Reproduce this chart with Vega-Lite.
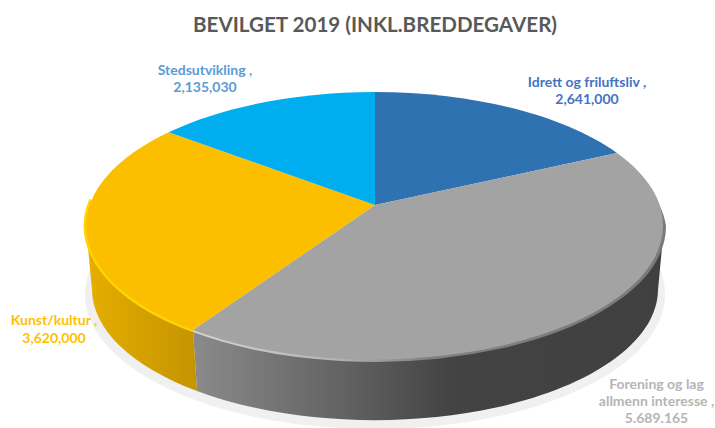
{
"$schema":"https://vega.github.io/schema/vega-lite/v6.json",
"width":715,"height":428,"padding":0,"autosize":{"type":"none"},
"background":"white",
"config":{"view":{"stroke":null}},
"title":{"text":"BEVILGET 2019 (INKL.BREDDEGAVER)","anchor":"middle","frame":"group","offset":-53,"dx":17.5,"baseline":"alphabetic","font":"Lato","fontSize":20.6,"fontWeight":"bold","color":"#595959"},
"data":{"values":[
{"category":"Idrett og friluftsliv","value":2641000,"label":"Idrett og friluftsliv ,\n2,641,000"},
{"category":"Forening og lag allmenn interesse","value":5689165,"label":"Forening og lag\nallmenn interesse ,\n5.689.165"},
{"category":"Kunst/kultur","value":3620000,"label":"Kunst/kultur ,\n3,620,000"},
{"category":"Stedsutvikling","value":2135030,"label":"Stedsutvikling ,\n2,135,030"}
]},
"layer":[
{"transform":[{"filter":"datum.category==='Forening og lag allmenn interesse'"}],
 "mark":{"type":"point","filled":true,"size":4,"fill":"#f0f0f0","stroke":null,"opacity":1,"shape":"M-272.5,80 A290,135 0 0 1 307.5,80 A290,135 0 0 1 -272.5,80 Z"},"encoding":{}},
{"transform":[{"filter":"datum.category==='Forening og lag allmenn interesse'"}],
 "mark":{"type":"point","filled":true,"size":4,"stroke":null,"opacity":1,
  "fill":{"gradient":"linear","x1":0,"y1":0,"x2":1,"y2":0,"stops":[{"offset":0,"color":"#8a8a8a"},{"offset":0.33,"color":"#616161"},{"offset":0.55,"color":"#434343"},{"offset":1,"color":"#404040"}]},
  "shape":"M306.5,12 A289,134 0 0 1 -164.5,116 L-160.5,177 A283,131 0 0 0 300.5,76 Z"},"encoding":{}},
{"transform":[{"filter":"datum.category==='Kunst/kultur'"}],
 "mark":{"type":"point","filled":true,"size":4,"stroke":null,"opacity":1,
  "fill":{"gradient":"linear","x1":0,"y1":0,"x2":1,"y2":0,"stops":[{"offset":0,"color":"#e6ae00"},{"offset":1,"color":"#c49400"}]},
  "shape":"M-164.5,116 A289,134 0 0 1 -271.5,12 L-265.5,76 A283,131 0 0 0 -160.5,177 Z"},"encoding":{}},
{"transform":[{"filter":"datum.category==='Kunst/kultur'"}],
 "mark":{"type":"point","filled":false,"size":4,"stroke":"#ffd400","strokeWidth":4.5,"opacity":1,
  "shape":"M-164.5,116 A289,134 0 0 1 -266,-14"},"encoding":{}},
{"transform":[{"filter":"datum.category==='Forening og lag allmenn interesse'"}],
 "mark":{"type":"point","filled":false,"size":4,"strokeWidth":4,"opacity":1,
  "stroke":{"gradient":"linear","x1":0,"y1":0,"x2":1,"y2":0,"stops":[{"offset":0,"color":"#d4d4d4"},{"offset":0.3,"color":"#b4b4b4"},{"offset":0.5,"color":"#808080"},{"offset":1,"color":"#7a7a7a"}]},
  "shape":"M-164.5,116 A289,134 0 0 0 306.5,12 A289,134 0 0 0 285,-30"},"encoding":{}},
{"mark":{"type":"point","filled":true,"size":4,"stroke":null,"opacity":1},
 "encoding":{
  "shape":{"field":"category","type":"nominal","legend":null,"scale":{
    "domain":["Idrett og friluftsliv","Forening og lag allmenn interesse","Kunst/kultur","Stedsutvikling"],
    "range":["M17.5,-9 L17.5,-122 A289,134 0 0 1 259.5,-61 Z","M17.5,-9 L259.5,-61 A289,134 0 0 1 -164.5,116 Z","M17.5,-9 L-164.5,116 A289,134 0 0 1 -188.8,-81.8 Z","M17.5,-9 L-188.8,-81.8 A289,134 0 0 1 17.5,-122 Z"]}},
  "fill":{"field":"category","type":"nominal","legend":null,"scale":{
    "domain":["Idrett og friluftsliv","Forening og lag allmenn interesse","Kunst/kultur","Stedsutvikling"],
    "range":["#2e72b2","#a3a3a3","#fbbf00","#00adee"]}},
  "detail":{"field":"value","type":"quantitative"}}},
{"transform":[{"filter":"datum.category==='Stedsutvikling'"}],
 "mark":{"type":"text","font":"Lato","fontWeight":"bold","fontSize":14,"lineBreak":"\n","lineHeight":17,"align":"center","baseline":"middle","fill":"#5b9bd5","dx":-152.5,"dy":-143},
 "encoding":{"text":{"field":"label"}}},
{"transform":[{"filter":"datum.category==='Idrett og friluftsliv'"}],
 "mark":{"type":"text","font":"Lato","fontWeight":"bold","fontSize":14,"lineBreak":"\n","lineHeight":17,"align":"center","baseline":"middle","fill":"#4472c4","dx":229.5,"dy":-131},
 "encoding":{"text":{"field":"label"}}},
{"transform":[{"filter":"datum.category==='Kunst/kultur'"}],
 "mark":{"type":"text","font":"Lato","fontWeight":"bold","fontSize":14,"lineBreak":"\n","lineHeight":18,"align":"center","baseline":"middle","fill":"#ffc000","dx":-303.5,"dy":107},
 "encoding":{"text":{"field":"label"}}},
{"transform":[{"filter":"datum.category==='Forening og lag allmenn interesse'"}],
 "mark":{"type":"text","font":"Lato","fontWeight":"bold","fontSize":14,"lineBreak":"\n","lineHeight":17,"align":"center","baseline":"middle","fill":"#b5b5b5","dx":299,"dy":171},
 "encoding":{"text":{"field":"label"}}}
]
}
